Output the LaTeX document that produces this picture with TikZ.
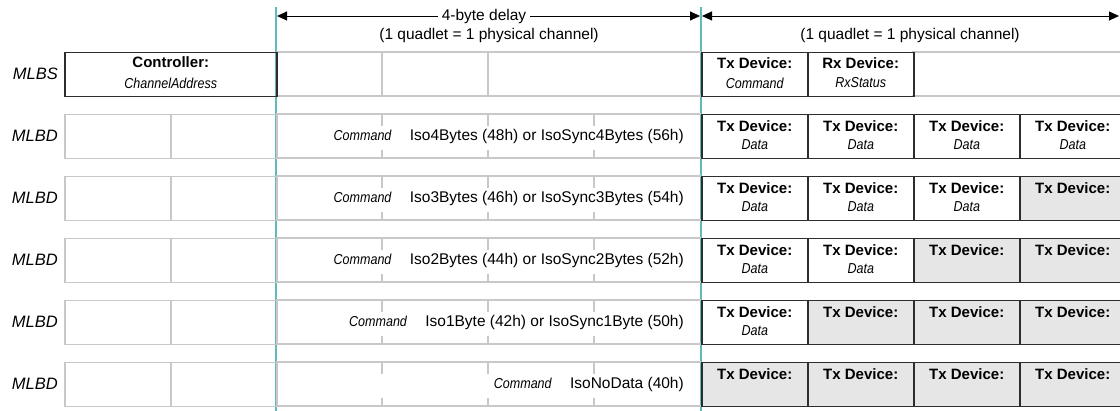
\documentclass[tikz,border=0pt]{standalone}
\usepackage{fontspec}
\setmainfont{Liberation Sans}
\newfontfamily\condfont[FakeStretch=0.87]{Liberation Sans}
\usetikzlibrary{arrows.meta,calc}
\definecolor{tealc}{RGB}{96,186,186}
\definecolor{lgray}{RGB}{200,200,200}
\definecolor{dgray}{RGB}{45,45,45}
\definecolor{cellfill}{RGB}{230,230,230}
\newcommand\txtreg{\fontsize{15.5}{18}\selectfont}
\newcommand\txtbold{\fontsize{15}{18}\selectfont\bfseries}
\newcommand\txtital{\condfont\fontsize{14.4}{17}\selectfont\itshape}
\newcommand\txtlab{\fontsize{16.5}{20}\selectfont\itshape}
\begin{document}
\begin{tikzpicture}[x=1pt,y=-1pt,
  lgline/.style={draw=lgray,line width=1.5pt},
  dbox/.style={draw=dgray,line width=1.5pt,minimum height=44pt,anchor=north west,inner sep=0pt},
  gbox/.style={lgline,minimum height=44pt,anchor=north west,inner sep=0pt},
  tealline/.style={draw=tealc,line width=1.5pt},
  dimarrow/.style={draw=black,line width=0.9pt,{Triangle[length=10pt,width=9pt]}-{Triangle[length=10pt,width=9pt]}},
  txt/.style={inner sep=0pt}
]
\clip (0,0) rectangle (1120,411);
\fill[white] (0,0) rectangle (1120,411);

% teal guide lines
\coordinate (t1top) at (276,7);
\coordinate (t1bot) at (276,411);
\coordinate (t2top) at (701,7);
\coordinate (t2bot) at (701,411);
\draw[tealline] (t1top) -- (t1bot);
\draw[tealline] (t2top) -- (t2bot);

% dimension arrows
\coordinate (a1) at (277,16);
\coordinate (a2) at (700,16);
\coordinate (a3) at (702,16);
\coordinate (a4) at (1119,16);
\draw[dimarrow] (a1) -- (a2);
\draw[dimarrow] (a3) -- (a4);
\node[txt,fill=white,inner xsep=4pt,inner ysep=2pt] (delay) at (484,16) {\txtreg 4-byte delay};
\node[txt] (quad1) at (489,35) {\txtreg (1 quadlet = 1 physical channel)};
\node[txt] (quad2) at (910,35) {\txtreg (1 quadlet = 1 physical channel)};

% MLBS row
\node[txt,anchor=east] (lbs) at (58,74) {\txtlab MLBS};
\draw[lgline] (276,52) -- (701,52);
\draw[lgline] (276,96) -- (701,96);
\draw[lgline] (382,52) -- (382,96);
\draw[lgline] (488,52) -- (488,96);
\draw[lgline] (912,52) -- (1120,52);
\draw[lgline] (912,96) -- (1120,96);
\node[dbox,minimum width=212pt] (ctrl) at (64,52) {};
\node[txt] at ($(ctrl.north)+(0,10)$) {\txtbold Controller:};
\node[txt] at ($(ctrl.north)+(0,31)$) {\txtital ChannelAddress};
\node[dbox,minimum width=106pt] (txc) at (701,52) {};
\node[txt] at ($(txc.north)+(0,11)$) {\txtbold Tx Device:};
\node[txt] at ($(txc.north)+(0,31)$) {\txtital Command};
\node[dbox,minimum width=106pt] (rxs) at (807,52) {};
\node[txt] at ($(rxs.north)+(0,11)$) {\txtbold Rx Device:};
\node[txt] at ($(rxs.north)+(0,31)$) {\txtital RxStatus};

% MLBD rows
\foreach \r/\y/\nd/\iso in {
  1/114/4/{Iso4Bytes (48h) or IsoSync4Bytes (56h)},
  2/176/3/{Iso3Bytes (46h) or IsoSync3Bytes (54h)},
  3/238/2/{Iso2Bytes (44h) or IsoSync2Bytes (52h)},
  4/300/1/{Iso1Byte (42h) or IsoSync1Byte (50h)},
  5/362/0/{IsoNoData (40h)}} {
  \node[txt,anchor=east] (lbd\r) at (58,\y+22) {\txtlab MLBD};
  \draw[lgline] (276,\y) -- (701,\y);
  \draw[lgline] (276,\y+44) -- (701,\y+44);
  \foreach \xx in {382,488,594} {
    \draw[lgline] (\xx,\y) -- (\xx,\y+12);
    \draw[lgline] (\xx,\y+36) -- (\xx,\y+44);
  }
  \node[gbox,minimum width=106pt] (la\r) at (64,\y) {};
  \node[gbox,minimum width=106pt] (lb\r) at (170,\y) {};
  \node[txt,anchor=base east] (iso\r) at (684,\y+27) {\txtreg \iso};
  \node[txt,anchor=base east] (cmd\r) at ($(iso\r.base west)+(-18,0)$) {\txtital Command};
  \foreach \c/\xx in {1/701,2/807,3/913,4/1019} {
    \ifnum\c>\nd\relax
      \node[dbox,fill=cellfill,minimum width=106pt] (c\r\c) at (\xx,\y) {};
      \node[txt] at ($(c\r\c.north)+(0,12)$) {\txtbold Tx Device:};
    \else
      \node[dbox,minimum width=106pt] (c\r\c) at (\xx,\y) {};
      \node[txt] at ($(c\r\c.north)+(0,12)$) {\txtbold Tx Device:};
      \node[txt] at ($(c\r\c.north)+(0,31)$) {\txtital Data};
    \fi
  }
}
\end{tikzpicture}
\end{document}
